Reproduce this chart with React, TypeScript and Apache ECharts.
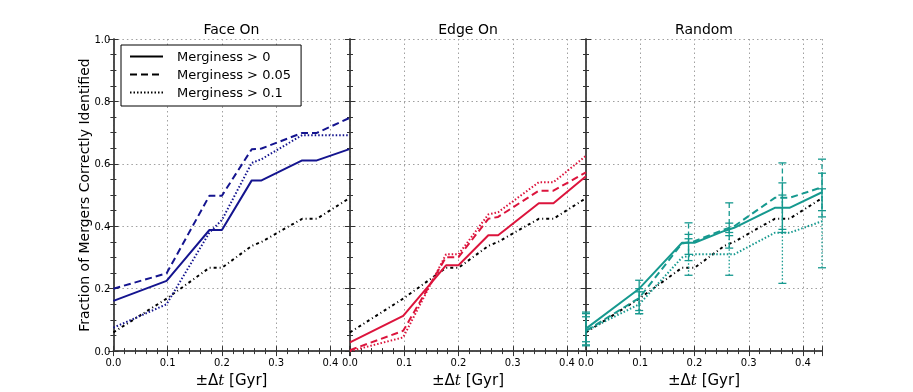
import React, { useEffect, useRef } from "react";
import * as echarts from "echarts";

// ---- data ----
const X = [0, 0.098, 0.177, 0.2, 0.255, 0.273, 0.348, 0.375, 0.435];
const baseline = [0.06, 0.168, 0.267, 0.267, 0.337, 0.35, 0.424, 0.424, 0.49];

const faceOn0 = [0.161, 0.225, 0.388, 0.388, 0.547, 0.547, 0.611, 0.611, 0.647];
const faceOn005 = [0.2, 0.249, 0.498, 0.498, 0.647, 0.649, 0.699, 0.699, 0.747];
const faceOn01 = [0.075, 0.15, 0.38, 0.42, 0.603, 0.615, 0.692, 0.692, 0.692];

const edgeOn0 = [0.028, 0.113, 0.275, 0.275, 0.371, 0.371, 0.474, 0.474, 0.56];
const edgeOn005 = [0.003, 0.065, 0.301, 0.301, 0.424, 0.43, 0.514, 0.514, 0.573];
const edgeOn01 = [0.0, 0.044, 0.31, 0.31, 0.438, 0.445, 0.541, 0.541, 0.626];

const random0 = [0.072, 0.2, 0.347, 0.347, 0.385, 0.395, 0.459, 0.459, 0.509];
const random005 = [0.065, 0.17, 0.345, 0.352, 0.39, 0.4, 0.491, 0.491, 0.525];
const random01 = [0.065, 0.15, 0.3, 0.31, 0.31, 0.31, 0.379, 0.379, 0.416];

// error bars for Random panel
const errX = [0, 0.098, 0.189, 0.264, 0.362, 0.435];
const random0Lo = [0.02, 0.13, 0.31, 0.37, 0.38, 0.45];
const random0Hi = [0.125, 0.227, 0.374, 0.41, 0.539, 0.57];
const random005Lo = [0.03, 0.12, 0.29, 0.33, 0.39, 0.43];
const random005Hi = [0.11, 0.2, 0.411, 0.475, 0.603, 0.615];
const random01Lo = [0.017, 0.12, 0.243, 0.243, 0.217, 0.267];
const random01Hi = [0.12, 0.19, 0.36, 0.38, 0.5, 0.52];

const panelTitles = ["Face On", "Edge On", "Random"];
const legendNames = ["Merginess > 0", "Merginess > 0.05", "Merginess > 0.1"];
const xTicks = [0, 0.1, 0.2, 0.3, 0.4];

const FONT = "DejaVu Sans";
const COLORS = ["#14148f", "#dc143c", "#16998f"];
const DASHES: any[] = ["solid", [7, 4], [1.5, 2]];
const BASE_DASH = [3, 3, 1, 3];

const pairs = (ys: number[]) => X.map((x, i) => [x, ys[i]]);

export default function App() {
  const ref = useRef<HTMLDivElement>(null);
  useEffect(() => {
    if (!ref.current) return;
    const chart = echarts.init(ref.current, undefined, { renderer: "svg" });

    const lefts = [113.4, 350, 586];
    const W = 236;
    const grids = lefts.map((l) => ({ left: l, top: 39, width: W, height: 313, containLabel: false }));

    const frameLine = { show: true, lineStyle: { color: "#444", width: 1.5 } };
    const mkX = (i: number, top: boolean) => ({
      type: "value",
      gridIndex: i,
      position: top ? "top" : "bottom",
      min: 0,
      max: 0.435,
      interval: 0.1,
      axisLine: frameLine,
      axisTick: { show: true, inside: true, length: 5, lineStyle: { color: "#333" } },
      minorTick: { show: true, splitNumber: 5, length: 3, lineStyle: { color: "#333" } },
      axisLabel: top
        ? { show: false }
        : {
            show: true,
            showMaxLabel: false,
            fontFamily: FONT,
            fontSize: 10,
            color: "#000",
            margin: 6,
            formatter: (v: number) => (xTicks.some((t) => Math.abs(t - v) < 1e-6) ? v.toFixed(1) : ""),
          },
      splitLine: top
        ? { show: false }
        : { show: true, lineStyle: { type: [1.5, 3], color: "#a0a0a0", width: 1 } },
      name: top ? "" : "{a|±Δ}{i|t}{a| [Gyr]}",
      nameLocation: "middle",
      nameGap: 17,
      nameTextStyle: {
        rich: {
          a: { fontFamily: FONT, fontSize: 15, color: "#000" },
          i: { fontFamily: "DejaVu Serif", fontStyle: "italic", fontSize: 15, color: "#000" },
        },
      },
    });
    const mkY = (i: number, right: boolean) => ({
      type: "value",
      gridIndex: i,
      position: right ? "right" : "left",
      min: 0,
      max: 1,
      interval: 0.2,
      axisLine: frameLine,
      axisTick: { show: true, inside: true, length: 5, lineStyle: { color: "#333" } },
      minorTick: { show: true, splitNumber: 4, length: 3, lineStyle: { color: "#333" } },
      axisLabel:
        !right && i === 0
          ? { show: true, fontFamily: FONT, fontSize: 10, color: "#000", margin: 3, formatter: (v: number) => v.toFixed(1) }
          : { show: false },
      splitLine: right
        ? { show: false }
        : { show: true, lineStyle: { type: [1.5, 3], color: "#a0a0a0", width: 1 } },
      name: !right && i === 0 ? "Fraction of Mergers Correctly Identified" : "",
      nameLocation: "middle",
      nameGap: 22,
      nameTextStyle: { fontFamily: FONT, fontSize: 14, color: "#000" },
    });

    const xAxes = [0, 1, 2].map((i) => mkX(i, false)).concat([0, 1, 2].map((i) => mkX(i, true)));
    const yAxes = [0, 1, 2].map((i) => mkY(i, false)).concat([0, 1, 2].map((i) => mkY(i, true)));

    const lineSeries = (name: string, i: number, ys: number[], color: string, dash: any, z = 3) => ({
      type: "line",
      name,
      xAxisIndex: i,
      yAxisIndex: i,
      data: pairs(ys),
      showSymbol: false,
      symbol: "none",
      lineStyle: { color, width: 2, type: dash },
      itemStyle: { color },
      z,
    });

    const panelData = [
      [faceOn0, faceOn005, faceOn01],
      [edgeOn0, edgeOn005, edgeOn01],
      [random0, random005, random01],
    ];

    const series: any[] = [];
    // legend dummy series (black)
    legendNames.forEach((n, k) => {
      series.push({
        type: "line",
        name: n,
        xAxisIndex: 0,
        yAxisIndex: 0,
        data: [],
        symbol: "circle",
        symbolSize: 0,
        lineStyle: { color: "#000", width: 2, type: DASHES[k] },
        itemStyle: { color: "#000", opacity: 0 },
      });
    });
    [0, 1, 2].forEach((i) => {
      series.push(lineSeries(panelTitles[i] + " base", i, baseline, "#000", BASE_DASH, 2));
      panelData[i].forEach((ys, k) => {
        series.push(lineSeries(panelTitles[i] + " " + legendNames[k] + " ", i, ys, COLORS[i], DASHES[k]));
      });
    });

    const errSets = [
      [random0Lo, random0Hi],
      [random005Lo, random005Hi],
      [random01Lo, random01Hi],
    ];
    errSets.forEach(([lo, hi], k) => {
      const dash = k === 0 ? null : k === 1 ? [5, 3] : [1.5, 2];
      series.push({
        type: "custom",
        name: "err" + k,
        xAxisIndex: 2,
        yAxisIndex: 2,
        clip: false,
        data: errX.map((x, j) => [x, lo[j], hi[j]]),
        encode: { x: 0, y: [1, 2] },
        renderItem: (params: any, api: any) => {
          const x = api.value(0);
          const p1 = api.coord([x, api.value(1)]);
          const p2 = api.coord([x, api.value(2)]);
          const cw = 4;
          const c = COLORS[2];
          return {
            type: "group",
            children: [
              { type: "line", shape: { x1: p1[0], y1: p1[1], x2: p2[0], y2: p2[1] }, style: { stroke: c, lineWidth: 1.3, lineDash: dash } },
              { type: "line", shape: { x1: p1[0] - cw, y1: p1[1], x2: p1[0] + cw, y2: p1[1] }, style: { stroke: c, lineWidth: 1.3 } },
              { type: "line", shape: { x1: p2[0] - cw, y1: p2[1], x2: p2[0] + cw, y2: p2[1] }, style: { stroke: c, lineWidth: 1.3 } },
            ],
          };
        },
        z: 4,
      });
    });

    chart.setOption({
      animation: false,
      grid: grids,
      xAxis: xAxes,
      yAxis: yAxes,
      legend: {
        data: legendNames,
        orient: "vertical",
        left: 121,
        top: 45,
        itemWidth: 33,
        itemHeight: 14,
        itemGap: 5,
        padding: [5, 10, 7, 8],
        borderColor: "#000",
        borderWidth: 1,
        borderRadius: 0,
        backgroundColor: "#fff",
        selectedMode: false,
        itemStyle: { opacity: 0 },
        textStyle: { fontFamily: FONT, fontSize: 13, color: "#000", padding: [0, 0, 0, 9] },
      },
      graphic: panelTitles.map((t, i) => ({
        type: "text",
        x: lefts[i] + W / 2,
        y: 29,
        style: { text: t, fontFamily: FONT, fontSize: 14, fill: "#000", textAlign: "center", textVerticalAlign: "middle" },
      })),
      series,
    });

    return () => chart.dispose();
  }, []);

  return <div ref={ref} style={{ position: "fixed", left: 0, top: 0, width: 913, height: 392 }} />;
}
